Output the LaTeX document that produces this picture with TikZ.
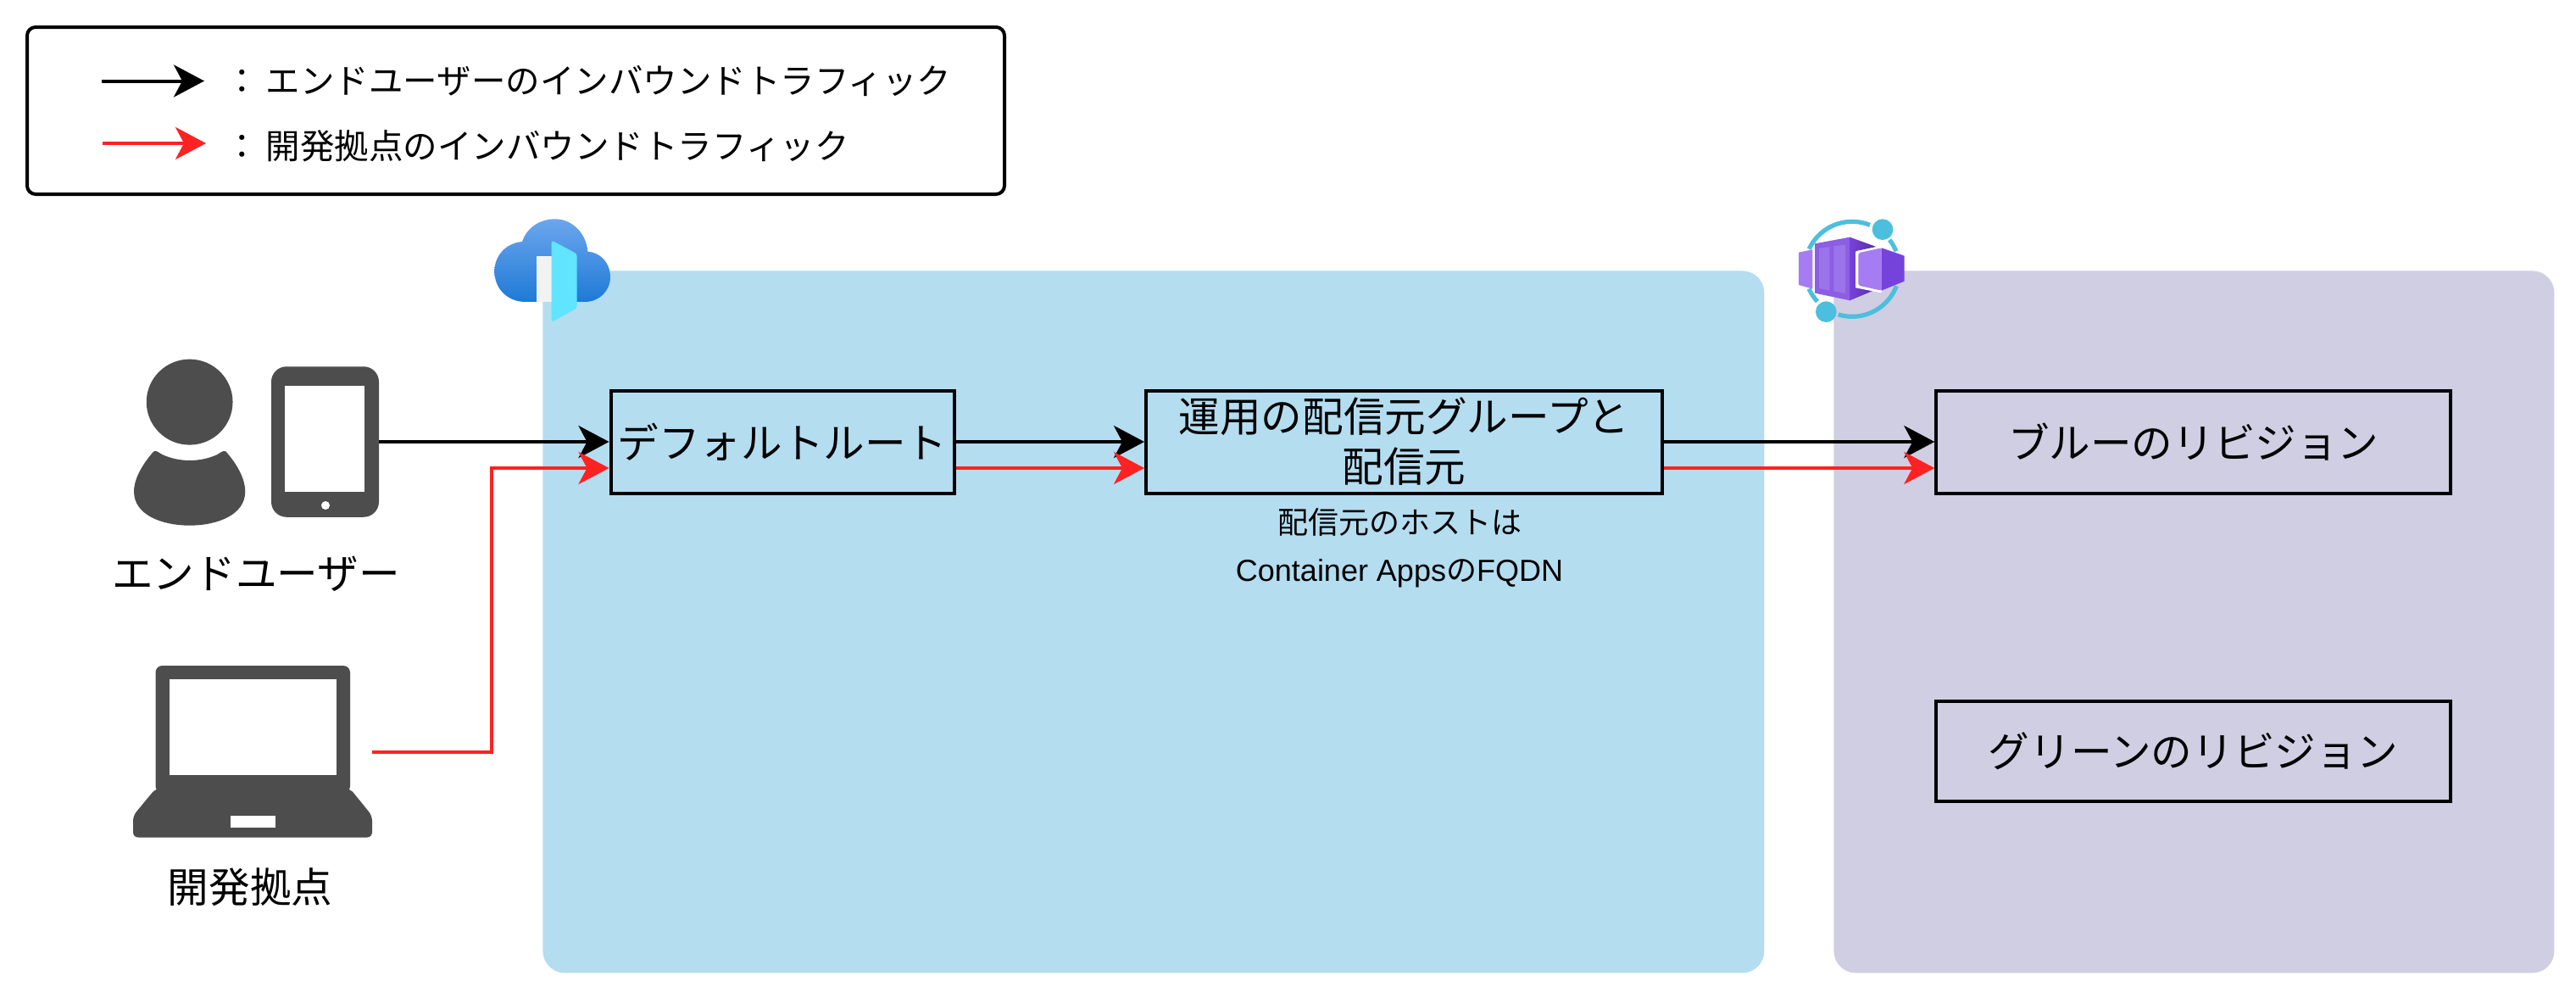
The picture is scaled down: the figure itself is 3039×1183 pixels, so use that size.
\documentclass[tikz,border=0pt]{standalone}
\usepackage{fontspec}
\usetikzlibrary{arrows.meta,positioning,calc}
\setmainfont{Noto Sans CJK JP}
\newfontfamily\latfont{Liberation Sans}
\definecolor{bluezone}{HTML}{B4DDF0}
\definecolor{purplezone}{HTML}{D0CEE2}
\definecolor{redline}{HTML}{FF2222}
\definecolor{icongray}{HTML}{4D4D4D}
\definecolor{ringblue}{HTML}{4BBFDD}
\definecolor{cubelight}{HTML}{A67CF2}
\definecolor{cubemid}{HTML}{8C5EE3}
\definecolor{cubeslat}{HTML}{9C74EA}
\definecolor{cubedark}{HTML}{7642DC}
\definecolor{cubedeep}{HTML}{552F9E}
\definecolor{cloudtop}{HTML}{6CA6EE}
\definecolor{cloudbot}{HTML}{1E7AD6}
\definecolor{doorcyan}{HTML}{60E4FF}
\definecolor{doorwhite}{HTML}{F2F2F2}
\tikzset{
  x=.5pt,y=-.5pt,
  bigtext/.style={font=\fontsize{24.3}{29.5}\selectfont,text=black,align=center,inner sep=0pt},
  legendtext/.style={font=\fontsize{20.25}{24}\selectfont,text=black,anchor=west,inner sep=0pt},
  smalltext/.style={font=\fontsize{18}{22}\selectfont,text=black,inner sep=0pt},
  zone/.style={rectangle,rounded corners=13pt,inner sep=0pt},
  flowbox/.style={rectangle,draw=black,line width=2pt,inner sep=0pt,font=\fontsize{24.3}{29.5}\selectfont,align=center},
  tip/.style={-{Stealth[length=18pt,width=19pt,inset=5pt]}},
  blackflow/.style={tip,draw=black,line width=2pt},
  redflow/.style={tip,draw=redline,line width=2pt},
  ringarc/.style={draw=ringblue,line width=2.6pt},
}
\begin{document}
\begin{tikzpicture}
\useasboundingbox (0,0) rectangle (3039,1183);
\fill[white] (0,0) rectangle (3039,1183);
% zones
\node[zone,fill=bluezone,minimum width=720.5pt,minimum height=414pt,anchor=north west] (bluearea) at (640,319) {};
\node[zone,fill=purplezone,minimum width=425pt,minimum height=414pt,anchor=north west] (purplearea) at (2163,319) {};
% legend
\node[rectangle,draw=black,line width=2pt,rounded corners=5pt,minimum width=576.5pt,minimum height=98.5pt,anchor=north west,inner sep=0pt] (legend) at (30,30) {};
\coordinate (legendblackstart) at (120,95.5);
\coordinate (legendblackend) at (241,95.5);
\coordinate (legendredstart) at (121,169);
\coordinate (legendredend) at (243,169);
\draw[blackflow] (legendblackstart) -- (legendblackend);
\draw[redflow] (legendredstart) -- (legendredend);
\node[legendtext] (legendone) at (265,95) {：\hspace{4pt}エンドユーザーのインバウンドトラフィック};
\node[legendtext] (legendtwo) at (265,172) {：\hspace{4pt}開発拠点のインバウンドトラフィック};
% person
\begin{scope}[shift={(100,380)},xscale=.4464,yscale=.4591]
\fill[icongray] (277,205) ellipse [x radius=114,y radius=110];
\fill[icongray] (182,332) .. controls (190,328) and (195,335) .. (205,340) .. controls (250,360) and (305,360) .. (350,340) .. controls (360,335) and (365,328) .. (373,332) .. controls (400,362) and (424,400) .. (424,435) .. controls (424,495) and (350,522) .. (277,522) .. controls (204,522) and (130,495) .. (130,435) .. controls (130,400) and (155,362) .. (182,332) -- cycle;
\end{scope}
% tablet
\node[rectangle,fill=icongray,rounded corners=9pt,minimum width=63.5pt,minimum height=88.75pt,inner sep=0pt] (tablet) at (383.5,521) {};
\fill[white] (336,455) rectangle (430,580);
\fill[white] (384,596) circle [radius=5];
% laptop
\fill[icongray,rounded corners=4pt] (183.5,800) -- (183.5,785) -- (413,785) -- (413,800) -- (413,935) -- (183.5,935) -- cycle;
\fill[icongray,rounded corners=3pt] (183.5,930) -- (413,930) -- (439,962) -- (439,987.5) -- (157,987.5) -- (157,962) -- cycle;
\fill[white] (199.5,801) rectangle (397,913.5);
\fill[white] (271.5,962) rectangle (325,976);
\coordinate (laptopport) at (439,886.5);
\coordinate (redbend) at (580,886.5);
% labels
\node[bigtext] (enduserlabel) at (302,677) {エンドユーザー};
\node[bigtext] (devlabel) at (295,1046) {開発拠点};
% boxes
\node[flowbox,minimum width=202.5pt,minimum height=60.5pt] (routebox) at (923,521) {デフォルトルート};
\node[flowbox,minimum width=304.5pt,minimum height=60.5pt] (origingroup) at (1656.5,521) {運用の配信元グループと\\配信元};
\node[flowbox,minimum width=303.5pt,minimum height=60.5pt] (bluerev) at (2587.75,521) {ブルーのリビジョン};
\node[flowbox,minimum width=303.5pt,minimum height=59pt] (greenrev) at (2587.75,885.5) {グリーンのリビジョン};
% notes
\node[smalltext] (hostnote) at (1651,616) {配信元のホストは};
\node[smalltext] (fqdnnote) at (1651,676) {{\latfont Container Apps}の{\latfont FQDN}};
% connectors
\draw[blackflow] (tablet.east) -- (routebox.west);
\draw[blackflow] (routebox.east) -- (origingroup.west);
\draw[blackflow] (origingroup.east) -- (bluerev.west);
\draw[redflow] (laptopport) -- (redbend) |- ([yshift=-15.5pt]routebox.west);
\draw[redflow] ([yshift=-15.5pt]routebox.east) -- ([yshift=-15.5pt]origingroup.west);
\draw[redflow] ([yshift=-15.5pt]origingroup.east) -- ([yshift=-15.5pt]bluerev.west);
% front door icon
\begin{scope}[shift={(560,230)},scale=.3333]
\shade[top color=cloudtop,bottom color=cloudbot] (180,378) .. controls (115,378) and (70,330) .. (70,270) .. controls (70,215) and (110,170) .. (168,165) .. controls (185,115) and (230,85) .. (285,85) .. controls (345,85) and (395,135) .. (400,200) .. controls (445,203) and (480,240) .. (480,290) .. controls (480,340) and (440,378) .. (390,378) -- cycle;
\fill[doorwhite] (220,217) rectangle (272,378);
\fill[doorcyan,rounded corners=1.5pt] (272,160) -- (362,208) -- (362,400) -- (272,450) -- cycle;
\end{scope}
% container apps icon
\begin{scope}[shift={(2080,230)},scale=.3333]
\draw[ringarc] plot[domain=155:68,samples=40] ({315+168*cos(\x)},{262-168*sin(\x)});
\draw[ringarc] plot[domain=38:22,samples=10] ({315+168*cos(\x)},{262-168*sin(\x)});
\draw[ringarc] plot[domain=-21:-107,samples=40] ({315+168*cos(\x)},{262-168*sin(\x)});
\draw[ringarc] plot[domain=204.5:223,samples=10] ({315+168*cos(\x)},{262-168*sin(\x)});
\fill[ringblue] (423,122) circle [radius=37];
\fill[ringblue] (223,413) circle [radius=37];
\fill[cubelight] (126,203) -- (175,193) -- (175,332) -- (126,318) -- cycle;
\fill[cubemid] (183,172) -- (307,149) -- (307,373) -- (183,347) -- cycle;
\fill[cubeslat] (198,188) -- (235,184) -- (235,338) -- (198,330) -- cycle;
\fill[cubeslat] (250,181) -- (291,176) -- (291,348) -- (250,340) -- cycle;
\shade[left color=cubedark,right color=cubedeep] (307,149) -- (400,183) -- (330,198) -- (330,325) -- (390,338) -- (307,373) -- cycle;
\fill[white] (327,200) -- (419,180) -- (419,346) -- (327,328) -- cycle;
\fill[cubelight,rounded corners=1pt] (337,205) -- (419,187) -- (419,338) -- (337,320) -- cycle;
\fill[cubedark] (419,187) -- (500,215) -- (500,305) -- (419,338) -- cycle;
\end{scope}
\end{tikzpicture}
\end{document}
